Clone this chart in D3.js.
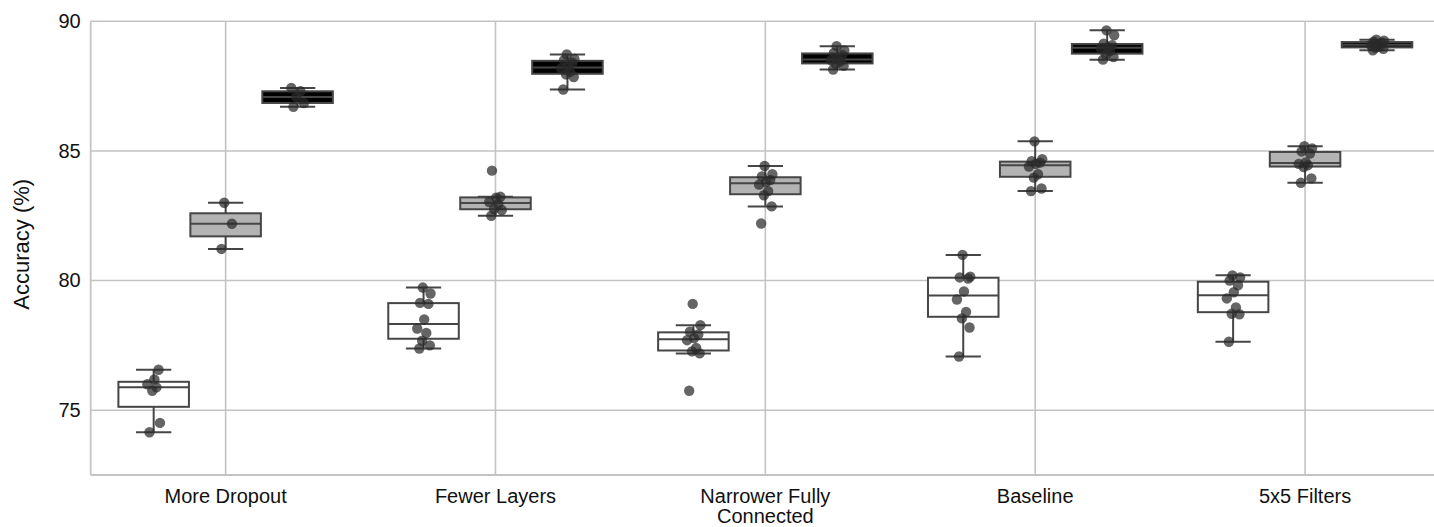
<!DOCTYPE html>
<html>
<head>
<meta charset="utf-8">
<script src="https://cdn.jsdelivr.net/npm/d3@7"></script>
<style>
  html, body { margin: 0; padding: 0; background: #fff; }
  text { font-family: "Liberation Sans", Arial, sans-serif; fill: #111; }
</style>
</head>
<body>
<div id="chart"></div>
<script>
// categories on the x axis
const categories = ['More Dropout', 'Fewer Layers', 'Narrower Fully Connected', 'Baseline', '5x5 Filters'];
const seriesKeys = ['white', 'gray', 'black'];
const yTicks = [75, 80, 85, 90];

// accuracy of each run, one list per category
const whiteRuns = [
  [74.15, 74.51, 75.75, 75.88, 76.0, 76.19, 76.56],
  [77.38, 77.5, 77.68, 77.98, 78.15, 78.5, 79.1, 79.14, 79.5, 79.73],
  [75.75, 77.19, 77.27, 77.4, 77.7, 77.78, 77.92, 78.03, 78.28, 79.1],
  [77.07, 78.19, 78.54, 78.79, 79.27, 79.58, 80.08, 80.12, 80.15, 80.99],
  [77.64, 78.7, 78.72, 78.96, 79.31, 79.55, 79.82, 80.0, 80.12, 80.2],
];
const grayRuns = [
  [81.22, 82.19, 83.0],
  [82.5, 82.72, 82.76, 82.95, 83.03, 83.2, 83.23, 84.24],
  [82.2, 82.86, 83.29, 83.45, 83.7, 83.8, 83.88, 84.02, 84.1, 84.42],
  [83.45, 83.55, 83.97, 84.1, 84.4, 84.5, 84.55, 84.6, 84.68, 85.37],
  [83.77, 83.94, 84.38, 84.45, 84.5, 84.56, 84.9, 84.98, 85.1, 85.18],
];
const blackRuns = [
  [86.7, 86.85, 87.08, 87.3, 87.43],
  [87.37, 87.85, 87.95, 88.05, 88.18, 88.26, 88.4, 88.5, 88.55, 88.72],
  [88.14, 88.28, 88.35, 88.45, 88.5, 88.55, 88.7, 88.78, 88.88, 89.04],
  [88.52, 88.62, 88.72, 88.85, 88.95, 89.0, 89.08, 89.14, 89.46, 89.65],
  [88.88, 88.94, 88.98, 89.03, 89.08, 89.12, 89.17, 89.21, 89.25, 89.29],
];

const runsBySeries = { white: whiteRuns, gray: grayRuns, black: blackRuns };
const fill = d3.scaleOrdinal(seriesKeys, ['#ffffff', '#b3b3b3', '#000000']);
const edge = '#464646';
const gridColor = '#c3c3c3';

const W = 1434;
const H = 527;
const margin = { top: 21.3, right: -6, bottom: 52, left: 90.7 };

const svg = d3.select('#chart').append('svg')
  .attr('width', W)
  .attr('height', H);

const x = d3.scaleBand()
  .domain(categories)
  .range([margin.left, W - margin.right]);

const xHue = d3.scaleBand()
  .domain(seriesKeys)
  .range([-x.bandwidth() * 0.4, x.bandwidth() * 0.4]);

const y = d3.scaleLinear()
  .domain([72.5, 90])
  .range([H - margin.bottom, margin.top]);

// ----- GRID -----
const grid = svg.append('g');
grid.selectAll('.hgrid')
  .data(yTicks)
  .enter().append('line')
    .attr('x1', margin.left)
    .attr('x2', W)
    .attr('y1', d => y(d))
    .attr('y2', d => y(d))
    .attr('stroke', gridColor)
    .attr('stroke-width', 1.6);

grid.selectAll('.vgrid')
  .data(categories)
  .enter().append('line')
    .attr('x1', d => x(d) + x.bandwidth() / 2)
    .attr('x2', d => x(d) + x.bandwidth() / 2)
    .attr('y1', y(90))
    .attr('y2', y(72.5))
    .attr('stroke', gridColor)
    .attr('stroke-width', 1.6);

// spines
svg.append('line')
  .attr('x1', margin.left).attr('x2', margin.left)
  .attr('y1', y(90)).attr('y2', y(72.5))
  .attr('stroke', gridColor).attr('stroke-width', 1.8);
svg.append('line')
  .attr('x1', margin.left).attr('x2', W)
  .attr('y1', y(72.5)).attr('y2', y(72.5))
  .attr('stroke', gridColor).attr('stroke-width', 1.8);

// ----- BOX STATS -----
function boxStats(values) {
  const v = values.slice().sort(d3.ascending);
  const q1 = d3.quantile(v, 0.25);
  const med = d3.quantile(v, 0.5);
  const q3 = d3.quantile(v, 0.75);
  const iqr = q3 - q1;
  const lo = d3.min(v.filter(d => d >= q1 - 1.5 * iqr));
  const hi = d3.max(v.filter(d => d <= q3 + 1.5 * iqr));
  return { q1, med, q3, lo, hi };
}

const groups = [];
categories.forEach((c, ci) => {
  seriesKeys.forEach((s) => {
    groups.push({ cat: c, key: s, values: runsBySeries[s][ci], stats: boxStats(runsBySeries[s][ci]) });
  });
});

const boxW = xHue.bandwidth() * 0.98;
const capW = boxW / 2;
const cx = d => x(d.cat) + x.bandwidth() / 2 + xHue(d.key) + xHue.bandwidth() / 2;

const boxes = svg.append('g').selectAll('.box')
  .data(groups)
  .enter().append('g')
    .attr('class', 'box');

// whiskers
boxes.append('line')
  .attr('x1', cx).attr('x2', cx)
  .attr('y1', d => y(d.stats.q3)).attr('y2', d => y(d.stats.hi))
  .attr('stroke', edge).attr('stroke-width', 2);
boxes.append('line')
  .attr('x1', cx).attr('x2', cx)
  .attr('y1', d => y(d.stats.q1)).attr('y2', d => y(d.stats.lo))
  .attr('stroke', edge).attr('stroke-width', 2);
boxes.append('line')
  .attr('x1', d => cx(d) - capW / 2).attr('x2', d => cx(d) + capW / 2)
  .attr('y1', d => y(d.stats.hi)).attr('y2', d => y(d.stats.hi))
  .attr('stroke', edge).attr('stroke-width', 2);
boxes.append('line')
  .attr('x1', d => cx(d) - capW / 2).attr('x2', d => cx(d) + capW / 2)
  .attr('y1', d => y(d.stats.lo)).attr('y2', d => y(d.stats.lo))
  .attr('stroke', edge).attr('stroke-width', 2);

// boxes
boxes.append('rect')
  .attr('x', d => cx(d) - boxW / 2)
  .attr('width', boxW)
  .attr('y', d => y(d.stats.q3))
  .attr('height', d => y(d.stats.q1) - y(d.stats.q3))
  .attr('fill', d => fill(d.key))
  .attr('stroke', edge)
  .attr('stroke-width', 2);

// medians
boxes.append('line')
  .attr('x1', d => cx(d) - boxW / 2).attr('x2', d => cx(d) + boxW / 2)
  .attr('y1', d => y(d.stats.med)).attr('y2', d => y(d.stats.med))
  .attr('stroke', edge).attr('stroke-width', 2);

// ----- STRIP POINTS -----
// small fixed jitter pattern so points don't sit exactly on one line
const jitterPattern = [-0.3, 0.45, -0.1, 0.2, -0.45, 0.05, 0.35, -0.25, 0.5, -0.05];
const jitterPx = 14;

boxes.selectAll('.pt')
  .data(d => d.values.map((v, i) => ({ v, i, g: d })))
  .enter().append('circle')
    .attr('class', 'pt')
    .attr('cx', d => cx(d.g) + jitterPattern[d.i % jitterPattern.length] * jitterPx)
    .attr('cy', d => y(d.v))
    .attr('r', 5.2)
    .attr('fill', '#2a2a2a')
    .attr('fill-opacity', 0.72);

// ----- AXES -----
const yAxis = svg.append('g')
  .attr('transform', `translate(${margin.left},0)`)
  .call(d3.axisLeft(y).tickValues(yTicks).tickSize(0).tickPadding(10));
yAxis.select('.domain').remove();
yAxis.selectAll('text')
  .style('font-size', '20px')
  .style('font-family', '"Liberation Sans", Arial, sans-serif')
  .attr('fill', '#111');

const xLabels = svg.append('g').selectAll('.xlabel')
  .data(categories)
  .enter().append('text')
    .attr('class', 'xlabel')
    .attr('x', d => x(d) + x.bandwidth() / 2)
    .attr('y', 503)
    .attr('text-anchor', 'middle')
    .style('font-size', '20px');

xLabels.each(function (d) {
  const lines = d === 'Narrower Fully Connected' ? ['Narrower Fully', 'Connected'] : [d];
  const t = d3.select(this);
  lines.forEach((line, i) => {
    t.append('tspan')
      .attr('x', x(d) + x.bandwidth() / 2)
      .attr('dy', i === 0 ? 0 : 20)
      .text(line);
  });
});

svg.append('text')
  .attr('transform', `translate(29, ${y(81.4)}) rotate(-90)`)
  .attr('text-anchor', 'middle')
  .style('font-size', '22px')
  .text('Accuracy (%)');
</script>
</body>
</html>
